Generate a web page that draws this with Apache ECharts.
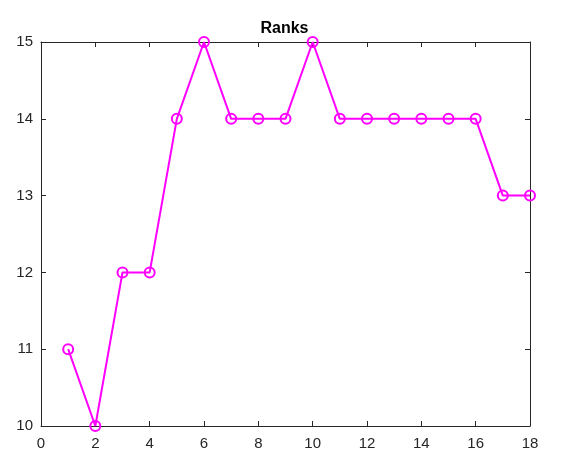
<!DOCTYPE html>
<html>
<head>
<meta charset="utf-8">
<script src="https://cdn.jsdelivr.net/npm/echarts@6/dist/echarts.min.js"></script>
<style>
  html, body { margin: 0; padding: 0; background: #fff; }
  #chart { width: 569px; height: 464px; }
</style>
</head>
<body>
<div id="chart"></div>
<script>
// ranks per step
var steps = [1, 2, 3, 4, 5, 6, 7, 8, 9, 10, 11, 12, 13, 14, 15, 16, 17, 18];
var ranks = [11, 10, 12, 12, 14, 15, 14, 14, 14, 15, 14, 14, 14, 14, 14, 14, 13, 13];

var chart = echarts.init(document.getElementById('chart'));

var axisCol = '#262626';
var font = 'Liberation Sans, Arial, sans-serif';

function boxAxis(min, max, interval, pos, show, margin) {
  return {
    type: 'value',
    min: min,
    max: max,
    interval: interval,
    position: pos,
    axisLine: { show: true, onZero: false, lineStyle: { color: axisCol, width: 1 } },
    axisTick: { show: true, inside: true, length: 5, lineStyle: { color: axisCol } },
    axisLabel: {
      show: show, color: axisCol, fontSize: 15, fontFamily: font,
      margin: margin
    },
    splitLine: { show: false }
  };
}

var pairs = steps.map(function (s, i) { return [s, ranks[i]]; });

var option = {
  backgroundColor: '#fff',
  animation: false,
  title: {
    text: 'Ranks',
    left: 'center',
    top: 16,
    textStyle: { fontSize: 16, fontWeight: 'bold', color: '#000', fontFamily: font }
  },
  grid: { left: 41, right: 39, top: 42, bottom: 38 },
  xAxis: [
    boxAxis(0, 18, 2, 'bottom', true, 10),
    boxAxis(0, 18, 2, 'top', false, 10)
  ],
  yAxis: [
    boxAxis(10, 15, 1, 'left', true, 8),
    boxAxis(10, 15, 1, 'right', false, 8)
  ],
  series: [{
    type: 'line',
    data: pairs,
    symbol: 'circle',
    symbolSize: 10,
    lineStyle: { color: '#ff00ff', width: 2 },
    itemStyle: { color: 'rgba(0,0,0,0)', borderColor: '#ff00ff', borderWidth: 2 },
    clip: false
  }]
};

chart.setOption(option);
</script>
</body>
</html>
